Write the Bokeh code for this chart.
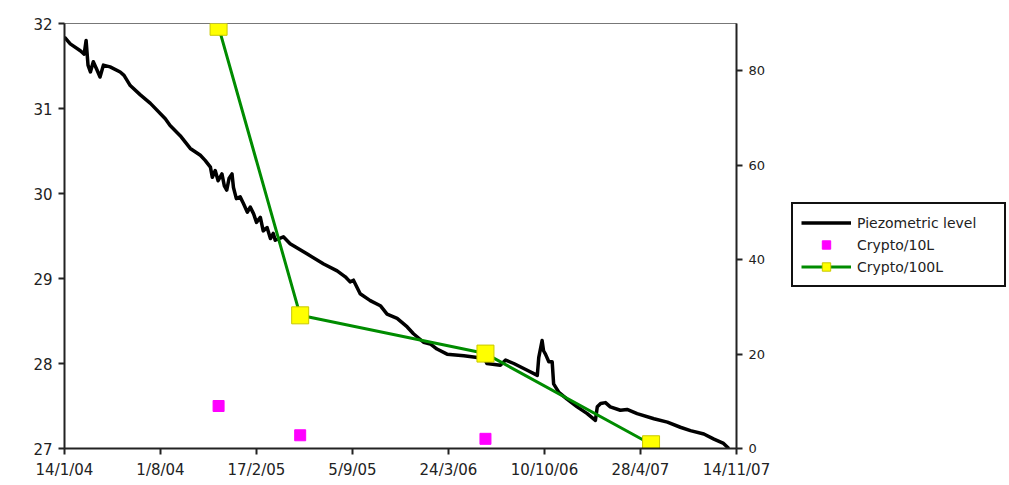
import pandas as pd
from bokeh.plotting import figure
from bokeh.layouts import row
from bokeh.models import Range1d, LinearAxis, FixedTicker, Legend, LegendItem
from bokeh.embed import file_html
from bokeh.resources import INLINE

# ---------------- data ----------------
start_date = "2004-01-14"
# Piezometric level: days since 14/1/2004 and level (left axis)
piezo_day = [0, 12, 33, 41, 45, 49, 54, 60, 68, 74, 81, 95, 116, 124, 137, 158, 179, 210, 220, 241,
             262, 283, 293, 304, 308, 314, 320, 328, 333, 338, 343, 349, 352, 358, 366, 373, 381, 387,
             394, 400, 408, 414, 422, 429, 435, 439, 456, 470, 505, 540, 568, 585, 595, 602, 616, 637,
             658, 672, 693, 714, 727, 748, 762, 776, 797, 832, 860, 875, 880, 908, 919, 936, 964, 985,
             988, 995, 998, 1002, 1009, 1016, 1019, 1030, 1047, 1068, 1089, 1106, 1110, 1117, 1127,
             1137, 1158, 1172, 1193, 1228, 1256, 1283, 1304, 1332, 1353, 1373, 1384]
piezo_level = [31.84, 31.76, 31.68, 31.64, 31.80, 31.51, 31.43, 31.55, 31.45, 31.37, 31.51, 31.49,
               31.43, 31.39, 31.27, 31.16, 31.06, 30.88, 30.80, 30.68, 30.53, 30.45, 30.39, 30.31,
               30.19, 30.27, 30.15, 30.23, 30.09, 30.04, 30.18, 30.23, 30.07, 29.94, 29.96, 29.88,
               29.78, 29.84, 29.76, 29.66, 29.72, 29.56, 29.60, 29.47, 29.53, 29.45, 29.49, 29.41,
               29.29, 29.17, 29.09, 29.02, 28.96, 28.98, 28.82, 28.74, 28.68, 28.58, 28.53, 28.43,
               28.35, 28.25, 28.23, 28.17, 28.11, 28.09, 28.07, 28.06, 28.00, 27.98, 28.04, 28.00,
               27.92, 27.86, 28.07, 28.27, 28.15, 28.11, 28.02, 28.02, 27.76, 27.66, 27.58, 27.49,
               27.41, 27.33, 27.49, 27.53, 27.54, 27.49, 27.45, 27.46, 27.41, 27.35, 27.31, 27.25,
               27.21, 27.17, 27.11, 27.06, 27.00]

sample_dates = ["2004-11-30", "2005-05-19", "2006-06-09", "2007-05-20"]
crypto_10L = [9.0, 2.8, 2.05]           # first three sampling dates (right axis)
crypto_100L = [89.3, 28.2, 20.1, 0.9]   # all four sampling dates (right axis)

tick_dates = ["2004-01-14", "2004-08-01", "2005-02-17", "2005-09-05",
              "2006-03-24", "2006-10-10", "2007-04-28", "2007-11-14"]
tick_labels = ["14/1/04", "1/8/04", "17/2/05", "5/9/05", "24/3/06", "10/10/06", "28/4/07", "14/11/07"]

left_range = (27, 32)
left_ticks = [27, 28, 29, 30, 31, 32]
right_range = (0, 90)
right_ticks = [0, 20, 40, 60, 80]

series_names = ["Piezometric level", "Crypto/10L", "Crypto/100L"]

# ---------------- styles ----------------
FONT = "DejaVu Sans"
PIEZO = dict(line_color="black", line_width=3.5, line_join="round")
C10 = dict(marker="square", size=11, fill_color="#ff00ff", line_color="#ff00ff")
C100_LINE = dict(line_color="#008c00", line_width=3)
C100_MARK = dict(marker="square", size=17, fill_color="#ffff00", line_color="#c8c800", line_width=1)

# ---------------- main chart ----------------
t0 = pd.Timestamp(start_date)
piezo_x = t0 + pd.to_timedelta(piezo_day, unit="D")
samp_x = pd.to_datetime(sample_dates)
tick_ts = pd.to_datetime(tick_dates)
tick_ms = [int(t.value // 10**6) for t in tick_ts]

p = figure(width=780, height=485, x_axis_type="datetime",
           x_range=Range1d(tick_ts[0], tick_ts[-1]),
           y_range=Range1d(*left_range),
           output_backend="svg", toolbar_location=None,
           min_border_left=64, min_border_right=44, min_border_top=23, min_border_bottom=37)
p.extra_y_ranges = {"crypto": Range1d(*right_range)}
p.xgrid.visible = False
p.ygrid.visible = False
p.outline_line_color = "#777777"
p.outline_line_width = 1

p.line(piezo_x, piezo_level, **PIEZO)
p.scatter(samp_x[:3], crypto_10L, y_range_name="crypto", **C10)
p.line(samp_x, crypto_100L, y_range_name="crypto", **C100_LINE)
p.scatter(samp_x, crypto_100L, y_range_name="crypto", **C100_MARK)

right_axis = LinearAxis(y_range_name="crypto")
p.add_layout(right_axis, "right")

for ax in [p.xaxis[0], p.yaxis[0], right_axis]:
    ax.axis_line_color = "#222222"
    ax.axis_line_width = 2
    ax.major_tick_line_color = "#222222"
    ax.major_tick_line_width = 2
    ax.major_tick_out = 6
    ax.major_tick_in = 0
    ax.minor_tick_line_color = None
    ax.major_label_text_font = FONT
    ax.major_label_text_font_size = "15px"
    ax.major_label_text_color = "#222222"
    ax.major_label_standoff = 6

p.xaxis[0].ticker = FixedTicker(ticks=tick_ms)
p.xaxis[0].major_label_overrides = {ms: lab for ms, lab in zip(tick_ms, tick_labels)}
p.yaxis[0].ticker = FixedTicker(ticks=left_ticks)
right_axis.ticker = FixedTicker(ticks=right_ticks)
right_axis.major_label_text_font_size = "13px"

# ---------------- legend panel (to the right of the chart) ----------------
lg = figure(width=229, height=485, output_backend="svg", toolbar_location=None,
            x_range=Range1d(0, 1), y_range=Range1d(0, 1),
            x_axis_location=None, y_axis_location=None,
            min_border_left=0, min_border_right=0, min_border_top=0, min_border_bottom=0)
lg.xgrid.visible = False
lg.ygrid.visible = False
lg.outline_line_color = None
nan = [float("nan")]
# legend proxies (no visible data) sharing the chart's styles
k_piezo = lg.line(nan, nan, **PIEZO)
k_10 = lg.scatter(nan, nan, **C10)
k_100l = lg.line(nan, nan, **C100_LINE)
k_100s = lg.scatter(nan, nan, **C100_MARK)

legend = Legend(items=[
    LegendItem(label=series_names[0], renderers=[k_piezo]),
    LegendItem(label=series_names[1], renderers=[k_10]),
    LegendItem(label=series_names[2], renderers=[k_100l, k_100s]),
], location=(11, 161))
legend.border_line_color = "#111111"
legend.border_line_alpha = 1
legend.border_line_width = 2
legend.background_fill_alpha = 1
legend.label_text_font = FONT
legend.label_text_font_size = "14px"
legend.label_text_color = "#222222"
legend.glyph_width = 50
legend.glyph_height = 21
legend.label_height = 21
legend.label_width = 139
legend.label_standoff = 6
legend.spacing = 1
legend.padding = 8
legend.margin = 0
lg.add_layout(legend, "center")

layout = row(p, lg, spacing=0)
open("out.html", "w").write(file_html(layout, INLINE))
